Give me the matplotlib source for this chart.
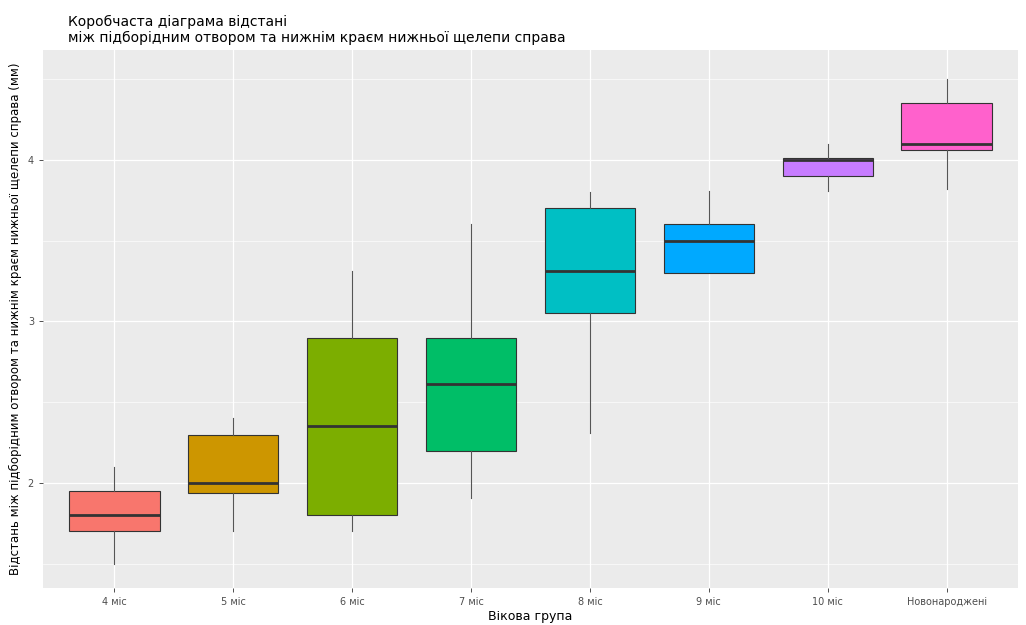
import matplotlib
matplotlib.use('Agg')
import matplotlib.pyplot as plt

# Вікові групи та статистика коробок (мм)
groups = ['4 міс', '5 міс', '6 міс', '7 міс', '8 міс', '9 міс', '10 міс', 'Новонароджені']
whislo = [1.50, 1.70, 1.70, 1.91, 2.31, 3.30, 3.81, 3.82]
q1 = [1.70, 1.94, 1.80, 2.20, 3.05, 3.30, 3.90, 4.06]
med = [1.80, 2.00, 2.35, 2.61, 3.31, 3.50, 4.00, 4.10]
q3 = [1.95, 2.30, 2.90, 2.90, 3.70, 3.60, 4.01, 4.35]
whishi = [2.10, 2.40, 3.31, 3.60, 3.80, 3.81, 4.10, 4.50]
colors = ['#F8766D', '#CD9600', '#7CAE00', '#00BE67', '#00BFC4', '#00A9FF', '#C77CFF', '#FF61CC']

plt.rcParams['font.family'] = ['DejaVu Sans']

fig = plt.figure(figsize=(10.26, 6.25), dpi=100)
ax = fig.add_axes([43 / 1026, 1 - 588 / 625, (1018 - 43) / 1026, (588 - 50) / 625])
ax.set_facecolor('#EBEBEB')

stats = []
for i, g in enumerate(groups):
    stats.append({'label': g, 'whislo': whislo[i], 'q1': q1[i], 'med': med[i],
                  'q3': q3[i], 'whishi': whishi[i], 'fliers': []})

positions = list(range(1, len(groups) + 1))
bp = ax.bxp(stats, positions=positions, widths=0.76, patch_artist=True, showcaps=False,
            boxprops=dict(edgecolor='#333333', linewidth=0.8),
            whiskerprops=dict(color='#555555', linewidth=0.8),
            medianprops=dict(color='#333333', linewidth=2.0))
for patch, c in zip(bp['boxes'], colors):
    patch.set_facecolor(c)
for p in bp['boxes'] + bp['whiskers'] + bp['medians']:
    p.set_zorder(3)

ax.set_xlim(0.4, 8.6)
ax.set_ylim(1.35, 4.68)
ax.set_xticks(positions)
ax.set_xticklabels(groups)
ax.set_yticks([2, 3, 4])
ax.set_yticklabels(['2', '3', '4'])
ax.set_yticks([1.5, 2.5, 3.5, 4.5], minor=True)
ax.grid(True, which='major', color='white', linewidth=0.9, zorder=0)
ax.grid(True, which='minor', axis='y', color='white', linewidth=0.45, zorder=0)
ax.set_axisbelow(True)
for s in ax.spines.values():
    s.set_visible(False)
ax.tick_params(axis='both', which='major', colors='#333333', labelsize=7, length=3, width=0.6)
ax.tick_params(axis='both', which='major', labelcolor='#4D4D4D')
ax.tick_params(axis='y', which='minor', length=0)

ax.set_xlabel('Вікова група', fontsize=9, labelpad=2)
ax.set_ylabel('Відстань між підборідним отвором та нижнім краєм нижньої щелепи справа (мм)',
              fontsize=8.5, labelpad=4)
ax.set_title('Коробчаста діаграма відстані\nміж підборідним отвором та нижнім краєм нижньої щелепи справа',
             loc='left', x=0.026, fontsize=10, pad=6, linespacing=1.15)

plt.savefig('out.png', dpi=100)
plt.close()
